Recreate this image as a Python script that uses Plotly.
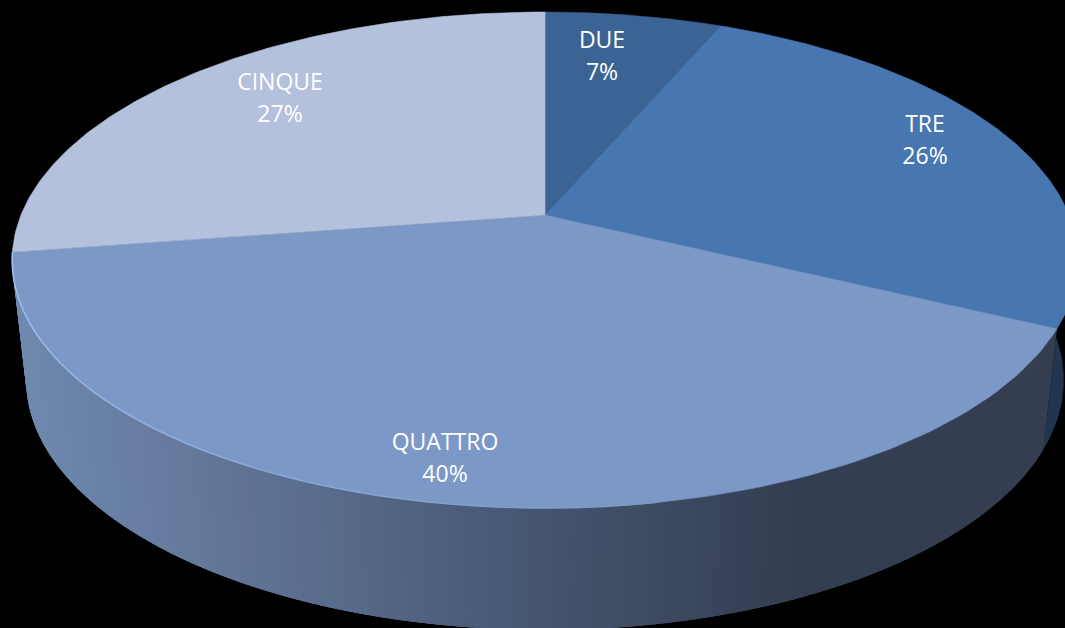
import numpy as np
import plotly.graph_objects as go

# ---------- data ----------
categories = ["DUE", "TRE", "QUATTRO", "CINQUE"]
values = [6.4, 25.8, 40.4, 27.4]
percent_labels = ["7%", "26%", "40%", "27%"]

# ---------- styles ----------
top_colors = ["#3b6494", "#4776b0", "#7b98c6", "#b3c1dc"]
tre_wall_color = "#1f3550"
rim_rgb = np.array([166, 196, 242])
quattro_rgb = np.array([123, 152, 198])
wall_stop_x = [15, 100, 200, 350, 500, 650, 800, 1060]
wall_stop_r = [112, 106, 100, 86, 73, 62, 52, 52]
wall_stop_g = [137, 129, 120, 105, 90, 75, 62, 62]
wall_stop_b = [175, 166, 155, 136, 118, 98, 82, 80]
label_centers = {"DUE": (602, 56), "TRE": (925, 140), "QUATTRO": (445, 458), "CINQUE": (280, 98)}
label_centers = {k: (v[0], v[1] + 2) for k, v in label_centers.items()}
LINE_GAP = 16
FONT = "Open Sans"
FONT_SIZE = 23

# ---------- projection of the pie disc ----------
CX, APEX_Y, K, B, A = 545.0, 215.0, 0.1815, -200.8, 524.0


def project(theta_deg):
    t = np.radians(theta_deg)
    u, v = np.sin(t), np.cos(t)
    d = 1 + K * v
    return CX + A * u / d, (APEX_Y + B * v) / d


def lower(x, y):
    return CX + (x - CX) * 519 / 533, 380 + (y - 260) * 250 / 248


cum = np.concatenate([[0], np.cumsum(values)]) / sum(values) * 360.0
fig = go.Figure()


def poly(xs, ys, color, lw=0.0):
    fig.add_trace(go.Scatter(x=xs, y=ys, mode="lines", fill="toself", fillcolor=color,
                             line=dict(color=color, width=lw), hoverinfo="skip", showlegend=False))


# TRE wall (visible right end)
th = np.linspace(90, cum[2], 30)
x, y = project(th)
lx, ly = lower(x, y)
poly(np.r_[x, lx[::-1]], np.r_[y, ly[::-1]], tre_wall_color)

# QUATTRO wall, drawn as overlapping strips from the right so no seams show
edges = np.linspace(cum[2], cum[3], 161)
for a, b in zip(edges[:-1], edges[1:]):
    th = np.linspace(a, min(b + 2.0, cum[3]), 6)
    x, y = project(th)
    lx, ly = lower(x, y)
    xm = project((a + b) / 2)[0]
    c = "rgb(%d,%d,%d)" % (np.interp(xm, wall_stop_x, wall_stop_r),
                           np.interp(xm, wall_stop_x, wall_stop_g),
                           np.interp(xm, wall_stop_x, wall_stop_b))
    poly(np.r_[x, lx[::-1]], np.r_[y, ly[::-1]], c)

# Top faces, each painted with a thin same-colour edge so no dark seam shows
for i, col in enumerate(top_colors):
    th = np.linspace(cum[i], cum[i + 1], 120)
    x, y = project(th)
    poly(np.r_[CX, x, CX], np.r_[APEX_Y, y, APEX_Y], col, lw=0.6)

# Light rim on the lit side of the QUATTRO edge, fading towards the centre
rim_edges = np.linspace(cum[3], 170, 41)
for j, (a, b) in enumerate(zip(rim_edges[:-1], rim_edges[1:])):
    x, y = project(np.linspace(a, b, 4))
    f = j / 40
    c = rim_rgb * (1 - f) + quattro_rgb * f
    fig.add_trace(go.Scatter(x=x, y=y, mode="lines",
                             line=dict(color="rgb(%d,%d,%d)" % tuple(c), width=1.5),
                             hoverinfo="skip", showlegend=False))

# Labels
lab_x = [label_centers[c][0] for c in categories]
lab_y = [label_centers[c][1] for c in categories]
fig.add_trace(go.Scatter(x=lab_x, y=[v - LINE_GAP for v in lab_y], mode="text", text=categories,
                         textposition="middle center", hoverinfo="skip", showlegend=False,
                         textfont=dict(family=FONT, size=FONT_SIZE, color="white")))
fig.add_trace(go.Scatter(x=lab_x, y=[v + LINE_GAP for v in lab_y], mode="text", text=percent_labels,
                         textposition="middle center", hoverinfo="skip", showlegend=False,
                         textfont=dict(family=FONT, size=FONT_SIZE, color="white")))

fig.update_layout(width=1065, height=628, margin=dict(l=0, r=0, t=0, b=0),
                  paper_bgcolor="black", plot_bgcolor="black", showlegend=False,
                  xaxis=dict(range=[0, 1065], visible=False, fixedrange=True),
                  yaxis=dict(range=[628, 0], visible=False, fixedrange=True))
fig.write_html("out.html", config={"displayModeBar": False},
               post_script="document.body.style.margin='0';document.body.style.background='black';document.body.style.overflow='hidden';")
